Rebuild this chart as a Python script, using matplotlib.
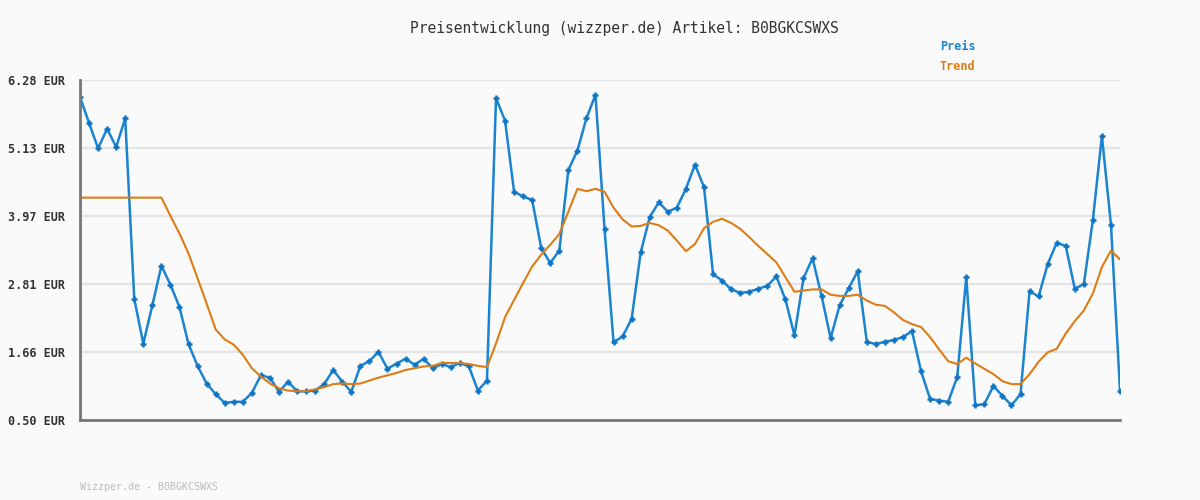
import matplotlib
matplotlib.use("Agg")
import matplotlib.pyplot as plt

title = "Preisentwicklung (wizzper.de) Artikel: B0BGKCSWXS"
footer = "Wizzper.de - B0BGKCSWXS"
y_ticks = [0.50, 1.656, 2.812, 3.968, 5.124, 6.28]
y_tick_labels = ["0.50 EUR", "1.66 EUR", "2.81 EUR", "3.97 EUR", "5.13 EUR", "6.28 EUR"]

preis = [5.99, 5.55, 5.12, 5.45, 5.14, 5.63, 2.56, 1.80, 2.45, 3.12,
         2.80, 2.42, 1.79, 1.42, 1.12, 0.94, 0.79, 0.81, 0.81, 0.96,
         1.26, 1.22, 0.98, 1.15, 0.99, 0.99, 1.00, 1.11, 1.35, 1.15,
         0.98, 1.42, 1.50, 1.66, 1.37, 1.46, 1.54, 1.44, 1.54, 1.38,
         1.45, 1.40, 1.47, 1.41, 1.00, 1.17, 5.97, 5.59, 4.38, 4.30,
         4.24, 3.42, 3.17, 3.38, 4.75, 5.08, 5.63, 6.03, 3.75, 1.82,
         1.92, 2.22, 3.35, 3.95, 4.20, 4.04, 4.11, 4.43, 4.84, 4.46,
         2.98, 2.87, 2.72, 2.66, 2.68, 2.73, 2.78, 2.94, 2.55, 1.94,
         2.91, 3.25, 2.61, 1.89, 2.45, 2.74, 3.03, 1.83, 1.79, 1.83,
         1.86, 1.91, 2.01, 1.33, 0.86, 0.83, 0.81, 1.23, 2.93, 0.75,
         0.77, 1.08, 0.91, 0.75, 0.94, 2.69, 2.60, 3.15, 3.51, 3.46,
         2.73, 2.81, 3.90, 5.33, 3.82, 1.00]

trend = [4.28, 4.28, 4.28, 4.28, 4.28, 4.28, 4.28, 4.28, 4.28, 4.28,
         3.97, 3.67, 3.33, 2.91, 2.48, 2.04, 1.87, 1.78, 1.61, 1.38,
         1.24, 1.12, 1.04, 1.00, 0.99, 0.99, 1.02, 1.06, 1.11, 1.12,
         1.11, 1.12, 1.17, 1.22, 1.26, 1.30, 1.35, 1.38, 1.41, 1.42,
         1.47, 1.47, 1.47, 1.45, 1.42, 1.40, 1.80, 2.25, 2.54, 2.83,
         3.11, 3.31, 3.48, 3.66, 4.04, 4.43, 4.39, 4.43, 4.38, 4.11,
         3.91, 3.79, 3.80, 3.85, 3.81, 3.72, 3.55, 3.37, 3.49, 3.76,
         3.87, 3.92, 3.85, 3.75, 3.61, 3.46, 3.32, 3.18, 2.93, 2.68,
         2.70, 2.72, 2.72, 2.63, 2.61, 2.61, 2.63, 2.53, 2.46, 2.44,
         2.33, 2.20, 2.13, 2.08, 1.91, 1.70, 1.50, 1.45, 1.56, 1.46,
         1.37, 1.28, 1.16, 1.11, 1.11, 1.28, 1.49, 1.65, 1.71, 1.97,
         2.18, 2.36, 2.65, 3.10, 3.38, 3.23]

legend_labels = ["Preis", "Trend"]
blue = "#1a84d0"
orange = "#dd7c14"
bg = "#fafafa"

x = list(range(len(preis)))

fig = plt.figure(figsize=(12, 5), dpi=100, facecolor=bg)
ax = fig.add_axes([80/1200, 1-420/500, 1040/1200, 340/500], facecolor=bg)

ax.plot(x, preis, color=blue, lw=1.8, marker="+", markersize=4,
        markeredgewidth=1.8, markeredgecolor="#0f74c4", zorder=3)
ax.plot(x, trend, color=orange, lw=1.5, zorder=4)

ax.set_xlim(0, len(preis) - 1)
ax.set_ylim(0.50, 6.28)
ax.set_yticks(y_ticks)
ax.set_yticklabels(y_tick_labels, family="DejaVu Sans Mono", fontsize=8.5,
                   fontweight="bold", color="#333333")
ax.set_xticks([])
ax.tick_params(axis="y", length=0, pad=10.5)
ax.grid(axis="y", color="#e4e4e4", lw=1.6, zorder=0)
ax.set_axisbelow(True)
for s in ["top", "right"]:
    ax.spines[s].set_visible(False)
for s in ["left", "bottom"]:
    ax.spines[s].set_color("#777777")
    ax.spines[s].set_linewidth(2)
ax.spines["left"].set_zorder(5)
ax.spines["bottom"].set_zorder(5)

fig.text(624/1200, 1-28/500, title, ha="center", va="center",
         family="DejaVu Sans Mono", fontsize=10.5, color="#333333")
fig.text(940/1200, 1-47/500, legend_labels[0], ha="left", va="center",
         family="DejaVu Sans Mono", fontsize=8.5, fontweight="bold", color=blue)
fig.text(940/1200, 1-67/500, legend_labels[1], ha="left", va="center",
         family="DejaVu Sans Mono", fontsize=8.5, fontweight="bold", color=orange)
fig.text(80/1200, 1-487/500, footer, ha="left", va="center",
         family="DejaVu Sans Mono", fontsize=7.2, color="#bbbbbb")

fig.savefig("out.png", dpi=100, facecolor=bg)
